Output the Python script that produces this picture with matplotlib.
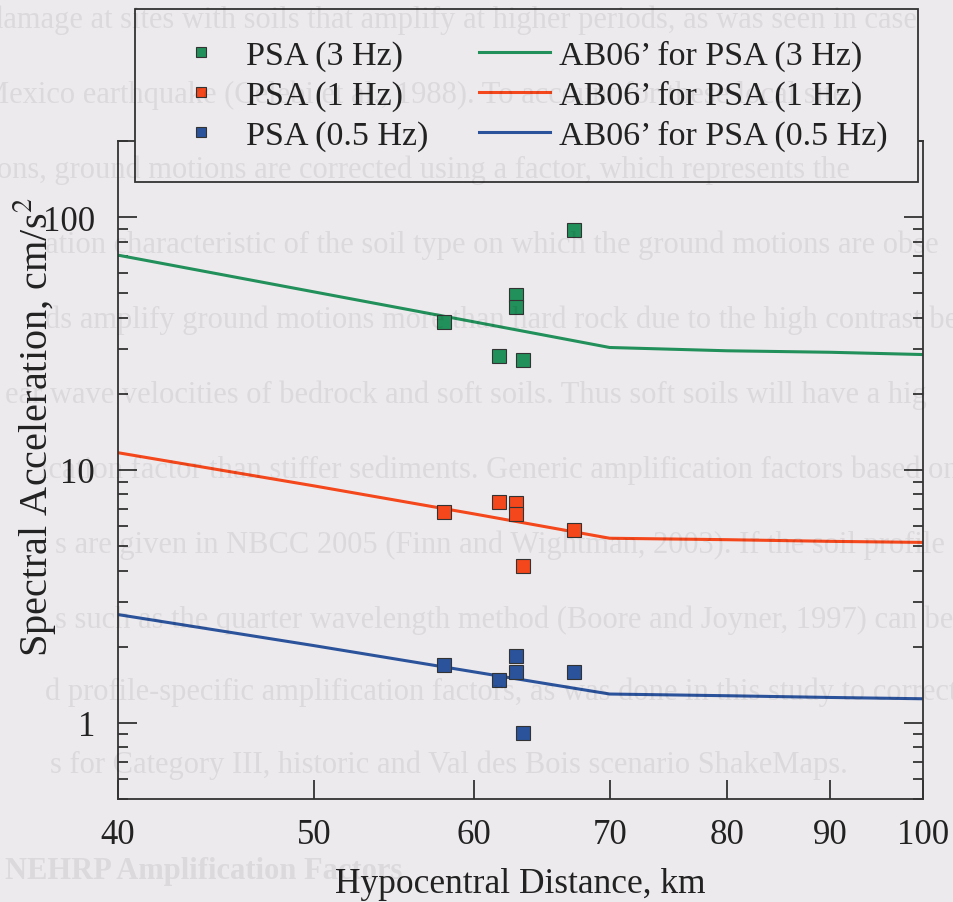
import matplotlib

matplotlib.use("Agg")

import matplotlib.pyplot as plt
from matplotlib.ticker import FixedLocator, NullLocator, NullFormatter, FixedFormatter

# ---------------------------------------------------
# DATA
# ---------------------------------------------------

model_dist = [40, 50, 60, 70, 80, 90, 100]
model_3hz = [70.7, 50.6, 38.5, 30.5, 29.6, 29.2, 28.6]
model_1hz = [11.7, 8.65, 6.7, 5.37, 5.3, 5.22, 5.17]
model_05hz = [2.68, 2.02, 1.59, 1.30, 1.28, 1.26, 1.245]

obs_dist = [58.0, 61.7, 62.9, 62.9, 63.4, 67.2]
obs_3hz = [38.5, 28.3, 49.0, 44.0, 27.1, 88.5]
obs_1hz = [6.8, 7.5, 7.4, 6.7, 4.16, 5.8]
obs_05hz = [1.70, 1.48, 1.84, 1.59, 0.91, 1.59]

series_names = ["3 Hz", "1 Hz", "0.5 Hz"]
series_colors = ["#22905a", "#f4471b", "#2b539b"]

x_ticks = [40, 50, 60, 70, 80, 90, 100]
y_major = [1, 10, 100]
y_minor = [0.5, 0.6, 0.7, 0.8, 0.9, 2, 3, 4, 5, 6, 7, 8, 9,
           20, 30, 40, 50, 60, 70, 80, 90, 200]

# faint page text that shows through the scan
page_text = [
    (-12, 20, "damage at sites with soils that amplify at higher periods, as was seen in case"),
    (-18, 95, "Mexico earthquake (Celebi et al., 1988). To account for these local site"),
    (-20, 170, "tions, ground motions are corrected using a factor, which represents the"),
    (45, 245, "ation characteristic of the soil type on which the ground motions are obse"),
    (45, 320, "ds amplify ground motions more than hard rock due to the high contrast be"),
    (5, 395, "ear wave velocities of bedrock and soft soils. Thus soft soils will have a hig"),
    (40, 470, "ication factor than stiffer sediments. Generic amplification factors based on"),
    (55, 545, "s are given in NBCC 2005 (Finn and Wightman, 2003). If the soil profile i"),
    (55, 620, "s such as the quarter wavelength method (Boore and Joyner, 1997) can be"),
    (45, 692, "d profile-specific amplification factors, as was done in this study to correct"),
    (50, 765, "s for Category III, historic and Val des Bois scenario ShakeMaps."),
]

# ---------------------------------------------------
# FIGURE
# ---------------------------------------------------

bg = "#edeaed"
ink = "#333333"

plt.rcParams["font.family"] = ["Liberation Serif", "DejaVu Serif"]
plt.rcParams["mathtext.fontset"] = "stix"

fig = plt.figure(figsize=(9.54, 9.03), dpi=100, facecolor=bg)
ax = fig.add_axes([0.1237, 0.1141, 0.8438, 0.7287], facecolor=bg)

obs_sets = [obs_3hz, obs_1hz, obs_05hz]
model_sets = [model_3hz, model_1hz, model_05hz]

marker_handles = []
line_handles = []

for name, color, obs, model in zip(series_names, series_colors, obs_sets, model_sets):
    ln, = ax.plot(model_dist, model, color=color, linewidth=2.2,
                  label="AB06\u2019 for PSA (" + name + ")", zorder=2)
    mk, = ax.plot(obs_dist, obs, linestyle="none", marker="s", markersize=9.5,
                  markerfacecolor=color, markeredgecolor=ink, markeredgewidth=0.8,
                  label="PSA (" + name + ")", zorder=3)
    line_handles.append(ln)
    marker_handles.append(mk)

# ---------------------------------------------------
# AXES
# ---------------------------------------------------

ax.set_xscale("log")
ax.set_yscale("log")
ax.set_xlim(40, 100)
ax.set_ylim(0.5, 200)

ax.xaxis.set_major_locator(FixedLocator(x_ticks))
ax.xaxis.set_major_formatter(FixedFormatter([str(t) for t in x_ticks]))
ax.xaxis.set_minor_locator(NullLocator())

ax.yaxis.set_major_locator(FixedLocator(y_major))
ax.yaxis.set_major_formatter(FixedFormatter([str(t) for t in y_major]))
ax.yaxis.set_minor_locator(FixedLocator(y_minor))
ax.yaxis.set_minor_formatter(NullFormatter())

ax.tick_params(which="both", direction="in", left=True, right=True,
               bottom=True, top=False, color=ink, width=1.3)
ax.tick_params(which="major", length=14)
ax.tick_params(which="minor", length=7)
ax.tick_params(axis="x", which="major", labelsize=25, pad=14, labelcolor="#222222")
ax.tick_params(axis="y", which="major", labelsize=25, pad=16.5, labelcolor="#222222")

for s in ax.spines.values():
    s.set_color(ink)
    s.set_linewidth(1.3)

ax.set_xlabel("Hypocentral Distance, km", fontsize=25.5, color="#222222", labelpad=11)
ax.set_ylabel("Spectral Acceleration, cm/s$^2$", fontsize=29, color="#222222")
ax.yaxis.set_label_coords(-0.074, 0.566)

# ---------------------------------------------------
# LEGEND
# ---------------------------------------------------

leg = ax.legend(handles=marker_handles + line_handles, ncol=2,
                loc="upper left", bbox_to_anchor=(135 / 954, 1 - 10 / 903),
                bbox_transform=fig.transFigure, fontsize=24.5, frameon=True,
                fancybox=False, framealpha=1, facecolor=bg, edgecolor=ink,
                handlelength=2.1, handletextpad=0.25, columnspacing=1.5,
                borderpad=0.9, labelspacing=0.26, markerscale=0.8,
                borderaxespad=0)
leg.get_frame().set_linewidth(1.3)
for t in leg.get_texts():
    t.set_color("#222222")

# ---------------------------------------------------
# SHOW-THROUGH TEXT
# ---------------------------------------------------

for px, py, line in page_text:
    fig.text(px / 954, 1 - py / 903, line, fontsize=22, va="center", ha="left",
             color="black", alpha=0.07, zorder=10)
fig.text(5 / 954, 1 - 872 / 903, "NEHRP Amplification Factors", fontsize=22,
         fontweight="bold", va="center", ha="left", color="black", alpha=0.07, zorder=10)

plt.savefig("out.png", dpi=100, facecolor=bg)
plt.close()
